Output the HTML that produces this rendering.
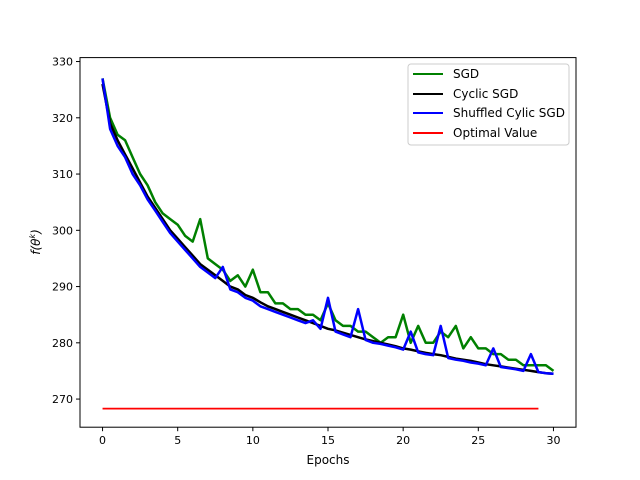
<!DOCTYPE html>
<html><head><meta charset="utf-8"><style>
body{margin:0;background:#fff}
svg{display:block;font-family:"DejaVu Sans","Liberation Sans",sans-serif}
</style></head><body>
<svg id="chart" width="640" height="480" viewBox="0 0 640 480">
<g id="plot"></g>
<g id="axes"></g>
<text x="328" y="464" font-size="12" text-anchor="middle">Epochs</text>
<text transform="translate(40,242) rotate(-90)" font-size="12" text-anchor="middle" font-style="italic">f(θ<tspan font-size="8" dy="-5">k</tspan><tspan dy="5">)</tspan></text>
<g>
<rect x="408" y="64" width="161" height="81" rx="3" fill="#fff" stroke="#ccc"/>
<g><line x1="413" y1="74" x2="443" y2="74" stroke="green" stroke-width="2"/><text x="453" y="78" font-size="12">SGD</text></g>
<g><line x1="413" y1="94" x2="443" y2="94" stroke="#000" stroke-width="2"/><text x="453" y="98" font-size="12">Cyclic SGD</text></g>
<g><line x1="413" y1="113" x2="443" y2="113" stroke="blue" stroke-width="2"/><text x="453" y="117" font-size="12">Shuffled Cylic SGD</text></g>
<g><line x1="413" y1="133" x2="443" y2="133" stroke="red" stroke-width="2"/><text x="453" y="137" font-size="12">Optimal Value</text></g>
</g>
</svg>
<script>
const epochStep = 0.5;
const sgd = [327,320,317,316,313,310,308,305,303,302,301,299,298,302,295,294,293,291,292,290,293,289,289,287,287,286,286,285,285,284,287,284,283,283,282,282,281,280,281,281,285,280,283,280,280,282,281,283,279,281,279,279,278,278,277,277,276,276,276,276,275];
const cyclic = [326,319,316,313.5,311,308.5,306,304,302,300,298.5,297,295.5,294,293,292,291,290,289.5,288.5,288,287.2,286.5,286,285.5,285,284.5,284,283.5,283,282.5,282.2,281.8,281.4,281,280.6,280.3,280,279.7,279.4,279,278.8,278.5,278.2,278,277.8,277.5,277.2,277,276.8,276.5,276.2,276,275.8,275.6,275.4,275.2,275,274.8,274.6,274.5];
const shuffled = [327,318,315,313,310,308,305.5,303.5,301.5,299.5,298,296.5,295,293.5,292.5,291.5,293.5,289.5,289,288,287.5,286.5,286,285.5,285,284.5,284,283.5,284,282.5,288,282,281.5,281,286,280.5,280,279.8,279.5,279.2,278.8,282,278.3,278,277.8,283,277.3,277,276.8,276.5,276.3,276,279,275.7,275.5,275.3,275,278,274.8,274.6,274.5];
const optimalValue = 268.3;
const optimalRange = [0, 29];
const xTicks = [0,5,10,15,20,25,30];
const yTicks = [270,280,290,300,310,320,330];

const NS='http://www.w3.org/2000/svg';
const L=80,R=576,T=57.6,B=427.2;
const xMin=-1.5,xMax=31.5,yMin=265.0,yMax=330.7;
const xs=v=>L+(v-xMin)/(xMax-xMin)*(R-L);
const ys=v=>B-(v-yMin)/(yMax-yMin)*(B-T);
const plot=document.getElementById('plot'),axes=document.getElementById('axes');
function mk(tag,attrs,parent){const e=document.createElementNS(NS,tag);for(const k in attrs)e.setAttribute(k,attrs[k]);parent.appendChild(e);return e;}
function series(arr,color,name){
  const d=arr.map((v,i)=>(i?'L':'M')+xs(i*epochStep).toFixed(1)+' '+ys(v).toFixed(1)).join(' ');
  const p=mk('path',{d:d,fill:'none',stroke:color,'stroke-width':2.5,'stroke-linejoin':'round'},plot);
  
  
}
series(sgd,'green','sgd-line');
series(cyclic,'#000','cyclic-sgd-line');
series(shuffled,'blue','shuffled-cyclic-sgd-line');
const opt=mk('line',{x1:xs(optimalRange[0]),x2:xs(optimalRange[1]),y1:ys(optimalValue),y2:ys(optimalValue),stroke:'red','stroke-width':1.8},plot);


const frame=mk('rect',{x:L,y:T,width:R-L,height:B-T,fill:'none',stroke:'#000','stroke-width':1},axes);


xTicks.forEach(t=>{
  const x=xs(t);
  mk('line',{x1:x,x2:x,y1:B,y2:B+4,stroke:'#000'},axes);
  const tx=mk('text',{x:x,y:B+17,'font-size':11,'text-anchor':'middle'},axes);
  tx.textContent=t;
  
  
});
yTicks.forEach(t=>{
  const y=ys(t);
  mk('line',{x1:L-4,x2:L,y1:y,y2:y,stroke:'#000'},axes);
  const tx=mk('text',{x:L-7,y:y+4,'font-size':11,'text-anchor':'end'},axes);
  tx.textContent=t;
  
  
});
</script>
</body></html>
